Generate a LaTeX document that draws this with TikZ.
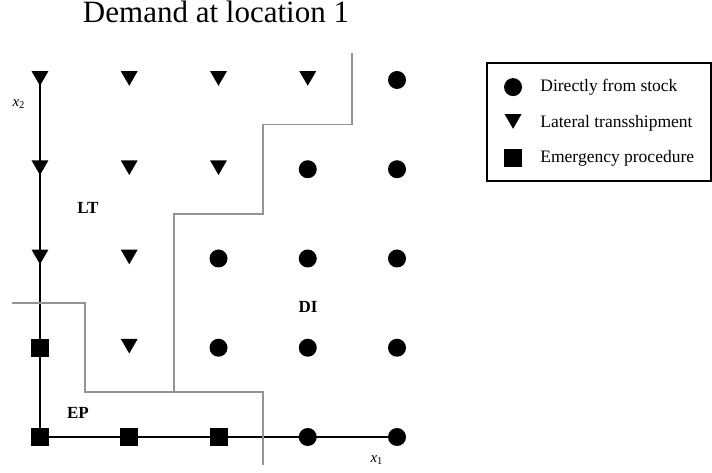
\documentclass[tikz,border=0pt]{standalone}
\usepackage{fontspec}
\setmainfont{Liberation Serif}
\usetikzlibrary{shapes.geometric,positioning,backgrounds}

\begin{document}
\begin{tikzpicture}[
    x=44.625pt, y=44.625pt,
    stock/.style={circle, fill=black, minimum size=9pt, inner sep=0pt},
    lateral/.style={regular polygon, regular polygon sides=3, shape border rotate=180, fill=black, minimum size=9.8pt, inner sep=0pt, yshift=2pt},
    emergency/.style={rectangle, fill=black, minimum size=9pt, inner sep=0pt},
    axis/.style={line width=1pt},
    border/.style={draw=black!42, line width=0.9pt},
    region/.style={font=\fontsize{8.5}{10}\selectfont\bfseries},
    keytext/.style={anchor=west, inner sep=0pt, font=\fontsize{8.75}{10}\selectfont},
    varlabel/.style={font=\fontsize{7.5}{9}\selectfont}
]
\useasboundingbox (-0.448,-0.403) rectangle (7.529,4.896);

% Title
\node[anchor=base, font=\fontsize{15.5}{18}\selectfont] (title) at (1.972,4.639) {Demand at location 1};

% Row 4
\node[lateral] (m04) at (0,4) {};
\node[lateral] (m14) at (1,4) {};
\node[lateral] (m24) at (2,4) {};
\node[lateral] (m34) at (3,4) {};
\node[stock] (m44) at (4,4) {};

% Row 3
\node[lateral] (m03) at (0,3) {};
\node[lateral] (m13) at (1,3) {};
\node[lateral] (m23) at (2,3) {};
\node[stock] (m33) at (3,3) {};
\node[stock] (m43) at (4,3) {};

% Row 2
\node[lateral] (m02) at (0,2) {};
\node[lateral] (m12) at (1,2) {};
\node[stock] (m22) at (2,2) {};
\node[stock] (m32) at (3,2) {};
\node[stock] (m42) at (4,2) {};

% Row 1
\node[emergency] (m01) at (0,1) {};
\node[lateral] (m11) at (1,1) {};
\node[stock] (m21) at (2,1) {};
\node[stock] (m31) at (3,1) {};
\node[stock] (m41) at (4,1) {};

% Row 0
\node[emergency] (m00) at (0,0) {};
\node[emergency] (m10) at (1,0) {};
\node[emergency] (m20) at (2,0) {};
\node[stock] (m30) at (3,0) {};
\node[stock] (m40) at (4,0) {};

% Axes
\begin{scope}[on background layer]
\draw[axis] (m00.center) -- (m04.center);
\draw[axis] (m00.center) -- (m40.center);
\end{scope}
\node[varlabel] (x2) at (-0.235,3.731) {\textit{x}\textsubscript{2}};
\node[varlabel] (x1) at (3.776,-0.258) {\textit{x}\textsubscript{1}};

% Region borders
\draw[border] (3.5,4.3) -- (3.5,3.5) -- (2.5,3.5) -- (2.5,2.5) -- (1.5,2.5) -- (1.5,0.5);
\draw[border] (-0.31,1.5) -- (0.5,1.5) -- (0.5,0.5) -- (2.5,0.5) -- (2.5,-0.31);

% Region labels
\node[region] (lt) at (0.538,2.566) {LT};
\node[region] (di) at (3.003,1.457) {DI};
\node[region] (ep) at (0.426,0.269) {EP};

% Legend
\node[draw, line width=0.6pt, minimum width=112pt, minimum height=59pt] (legend) at (6.263,3.529) {};
\node[stock] (keyDI) at (5.30,3.92) {};
\node[lateral] (keyLT) at (5.30,3.518) {};
\node[emergency] (keyEP) at (5.30,3.126) {};
\node[keytext] (txtDI) at (5.602,3.92) {Directly from stock};
\node[keytext] (txtLT) at (5.602,3.518) {Lateral transshipment};
\node[keytext] (txtEP) at (5.602,3.126) {Emergency procedure};

\end{tikzpicture}
\end{document}
